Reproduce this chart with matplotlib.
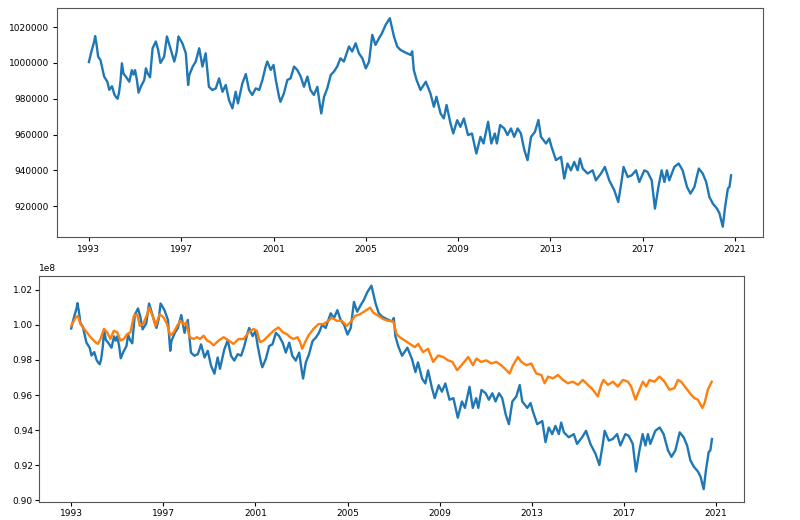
import matplotlib
matplotlib.use('Agg')
import matplotlib.pyplot as plt
import numpy as np

# --- data (decimal year, value) ---
top_years = [
    1993.00, 1993.10, 1993.23, 1993.27, 1993.33, 1993.40, 1993.50, 1993.58, 1993.66, 1993.80,
    1993.88, 1994.00, 1994.10, 1994.17, 1994.24, 1994.30, 1994.37, 1994.43, 1994.50, 1994.60,
    1994.75, 1994.86, 1994.93, 1995.00, 1995.08, 1995.15, 1995.25, 1995.40, 1995.47, 1995.55,
    1995.65, 1995.76, 1995.90, 1996.00, 1996.10, 1996.26, 1996.38, 1996.55, 1996.70, 1996.80,
    1996.88, 1997.05, 1997.20, 1997.30, 1997.35, 1997.50, 1997.63, 1997.78, 1997.92, 1998.06,
    1998.20, 1998.35, 1998.50, 1998.64, 1998.79, 1998.93, 1999.07, 1999.22, 1999.36, 1999.46,
    1999.65, 1999.80, 1999.94, 2000.08, 2000.23, 2000.38, 2000.52, 2000.66, 2000.73, 2000.88,
    2001.00, 2001.10, 2001.24, 2001.30, 2001.45, 2001.60, 2001.74, 2001.89, 2002.03, 2002.18,
    2002.32, 2002.47, 2002.60, 2002.75, 2002.90, 2003.00, 2003.07, 2003.19, 2003.33, 2003.48,
    2003.62, 2003.76, 2003.90, 2004.05, 2004.27, 2004.41, 2004.56, 2004.70, 2004.85, 2005.00,
    2005.14, 2005.28, 2005.42, 2005.57, 2005.70, 2005.86, 2006.04, 2006.22, 2006.36, 2006.50,
    2006.72, 2006.94, 2007.01, 2007.08, 2007.20, 2007.37, 2007.60, 2007.80, 2007.95, 2008.06,
    2008.24, 2008.38, 2008.50, 2008.67, 2008.79, 2008.96, 2009.10, 2009.25, 2009.43, 2009.60,
    2009.79, 2009.97, 2010.10, 2010.30, 2010.44, 2010.59, 2010.68, 2010.82, 2011.00, 2011.14,
    2011.29, 2011.43, 2011.58, 2011.72, 2011.87, 2012.01, 2012.16, 2012.33, 2012.48, 2012.59,
    2012.81, 2012.95, 2013.05, 2013.24, 2013.46, 2013.60, 2013.74, 2013.89, 2014.03, 2014.18,
    2014.28, 2014.40, 2014.61, 2014.83, 2014.97, 2015.19, 2015.36, 2015.55, 2015.77, 2015.94,
    2016.09, 2016.17, 2016.35, 2016.52, 2016.71, 2016.85, 2017.07, 2017.21, 2017.39, 2017.53,
    2017.68, 2017.82, 2017.94, 2018.05, 2018.15, 2018.37, 2018.56, 2018.73, 2018.92, 2019.07,
    2019.24, 2019.43, 2019.60, 2019.75, 2019.89, 2020.04, 2020.22, 2020.33, 2020.47, 2020.57,
    2020.69, 2020.76, 2020.83,
]
top_values = [
    1000500, 1006000, 1012000, 1015000, 1010500, 1003500, 1001700, 997000, 992400, 989500,
    985000, 987000, 982500, 981000, 980000, 983000, 990000, 999800, 994000, 992400,
    989500, 996000, 993500, 996000, 990500, 983400, 986700, 990500, 997000, 994000,
    992000, 1008200, 1012000, 1007300, 1000000, 1003500, 1014800, 1007300, 1000800, 1006000,
    1014800, 1011000, 1005400, 987700, 993300, 998000, 1000800, 1008200, 998000, 1005400,
    986700, 984900, 985800, 991400, 983900, 987700, 979300, 974600, 983900, 977400,
    988600, 993800, 984900, 982100, 985800, 984900, 990500, 998000, 1000800, 996100,
    998900, 990500, 981100, 978300, 983000, 990500, 991400, 998000, 996100, 992400,
    986700, 992400, 984900, 982100, 986700, 977400, 971800, 981100, 985800, 993300,
    995200, 998000, 1002600, 1000800, 1009200, 1006400, 1011000, 1005400, 1002600, 997000,
    1000800, 1015700, 1010100, 1013800, 1016600, 1021300, 1025000, 1014800, 1009200, 1007300,
    1005800, 1004500, 1006500, 996100, 990500, 984900, 989500, 983000, 975500, 981100,
    971800, 969000, 976500, 966200, 960600, 968000, 964300, 969000, 959700, 960600,
    949400, 958700, 955000, 967100, 955000, 960600, 955000, 965300, 963400, 959700,
    963400, 958700, 963400, 960600, 951300, 945700, 958700, 961500, 968100, 958700,
    955000, 957800, 953100, 945700, 947500, 935400, 943800, 940000, 944700, 940000,
    946600, 941000, 938200, 940000, 934400, 938200, 941900, 934400, 928800, 922300,
    934400, 941900, 936300, 937200, 940000, 933500, 940000, 939100, 934400, 918600,
    930700, 940000, 933500, 940000, 934400, 941900, 943800, 940000, 930700, 927000,
    930700, 941000, 938200, 933500, 925100, 921400, 918600, 915800, 908500, 919500,
    929800, 930700, 937200,
]

# second series of the lower panel, in units of 1e8
orange_years = [
    1993.00, 1993.19, 1993.29, 1993.40, 1993.62, 1993.84, 1994.05, 1994.16, 1994.27, 1994.42,
    1994.56, 1994.70, 1994.85, 1995.00, 1995.14, 1995.28, 1995.43, 1995.57, 1995.72, 1995.86,
    1995.98, 1996.12, 1996.30, 1996.38, 1996.51, 1996.66, 1996.84, 1997.02, 1997.16, 1997.30,
    1997.45, 1997.60, 1997.74, 1997.88, 1998.00, 1998.14, 1998.32, 1998.46, 1998.60, 1998.75,
    1998.90, 1999.04, 1999.18, 1999.40, 1999.62, 1999.84, 2000.05, 2000.27, 2000.49, 2000.70,
    2000.92, 2001.06, 2001.20, 2001.35, 2001.57, 2001.79, 2002.00, 2002.19, 2002.36, 2002.51,
    2002.65, 2002.83, 2002.94, 2003.03, 2003.16, 2003.30, 2003.52, 2003.74, 2003.95, 2004.17,
    2004.31, 2004.53, 2004.75, 2004.97, 2005.18, 2005.33, 2005.54, 2005.76, 2005.98, 2006.12,
    2006.34, 2006.56, 2006.77, 2006.99, 2007.13, 2007.27, 2007.49, 2007.71, 2007.92, 2008.07,
    2008.28, 2008.50, 2008.72, 2008.94, 2009.15, 2009.37, 2009.56, 2009.76, 2009.95, 2010.24,
    2010.45, 2010.60, 2010.81, 2011.03, 2011.25, 2011.46, 2011.68, 2011.90, 2012.04, 2012.19,
    2012.40, 2012.55, 2012.77, 2012.98, 2013.20, 2013.42, 2013.56, 2013.71, 2013.92, 2014.14,
    2014.36, 2014.57, 2014.79, 2015.01, 2015.22, 2015.44, 2015.66, 2015.87, 2016.02, 2016.12,
    2016.31, 2016.53, 2016.74, 2016.96, 2017.18, 2017.32, 2017.51, 2017.68, 2017.83, 2017.97,
    2018.12, 2018.33, 2018.55, 2018.77, 2018.98, 2019.20, 2019.35, 2019.49, 2019.71, 2019.93,
    2020.07, 2020.22, 2020.41, 2020.51, 2020.65, 2020.82,
]
orange_values = [
    0.9995, 1.0042, 1.0052, 1.0005, 0.9967, 0.9930, 0.9902, 0.9892, 0.9920, 0.9977,
    0.9958, 0.9920, 0.9967, 0.9958, 0.9911, 0.9920, 0.9948, 0.9958, 1.0052, 1.0061,
    0.9995, 1.0005, 1.0061, 1.0099, 1.0061, 0.9995, 1.0061, 1.0042, 1.0005, 0.9939,
    0.9958, 0.9995, 1.0024, 1.0005, 1.0014, 0.9930, 0.9920, 0.9930, 0.9920, 0.9939,
    0.9911, 0.9902, 0.9883, 0.9911, 0.9930, 0.9911, 0.9892, 0.9920, 0.9920, 0.9958,
    0.9977, 0.9967, 0.9902, 0.9911, 0.9939, 0.9967, 0.9986, 0.9958, 0.9948, 0.9930,
    0.9920, 0.9930, 0.9902, 0.9864, 0.9902, 0.9939, 0.9977, 1.0005, 1.0005, 1.0024,
    1.0042, 1.0024, 1.0024, 0.9995, 1.0024, 1.0052, 1.0061, 1.0080, 1.0099, 1.0070,
    1.0052, 1.0033, 1.0024, 1.0020, 0.9948, 0.9930, 0.9911, 0.9892, 0.9873, 0.9892,
    0.9845, 0.9864, 0.9789, 0.9826, 0.9817, 0.9798, 0.9789, 0.9742, 0.9770, 0.9817,
    0.9770, 0.9808, 0.9789, 0.9798, 0.9780, 0.9789, 0.9770, 0.9742, 0.9723, 0.9770,
    0.9817, 0.9789, 0.9770, 0.9780, 0.9723, 0.9714, 0.9667, 0.9705, 0.9695, 0.9714,
    0.9686, 0.9667, 0.9676, 0.9658, 0.9686, 0.9658, 0.9630, 0.9592, 0.9658, 0.9686,
    0.9658, 0.9676, 0.9648, 0.9686, 0.9676, 0.9648, 0.9573, 0.9630, 0.9676, 0.9648,
    0.9686, 0.9676, 0.9705, 0.9676, 0.9630, 0.9639, 0.9686, 0.9676, 0.9639, 0.9601,
    0.9582, 0.9573, 0.9526, 0.9554, 0.9630, 0.9676,
]

year_ticks = [1993, 1997, 2001, 2005, 2009, 2013, 2017, 2021]

# lower blue line is the same path on the 1e8 scale (sits ~0.25% below)
SCALE_LOW = 99.75

FS = 6.5
fig = plt.figure(figsize=(8, 5.2), dpi=100)

# --- top panel ---
ax1 = fig.add_axes([0.071, 0.544, 0.883, 0.441])
ax1.plot(top_years, top_values, color='#1f77b4', lw=1.7)
ax1.set_xticks(year_ticks)
ax1.set_xticklabels([str(y) for y in year_ticks])
ax1.ticklabel_format(axis='y', style='plain', useOffset=False)
ax1.tick_params(labelsize=FS, length=3, pad=2.5)

# --- bottom panel ---
ax2 = fig.add_axes([0.049, 0.034, 0.881, 0.436])
ax2.plot(top_years, np.array(top_values) * SCALE_LOW, color='#1f77b4', lw=1.7)
ax2.plot(orange_years, np.array(orange_values) * 1e8, color='#ff7f0e', lw=1.7)
ax2.set_ylim(0.8987e8, 1.0282e8)
ax2.set_xticks(year_ticks)
ax2.set_xticklabels([str(y) for y in year_ticks])
ax2.tick_params(labelsize=FS, length=3, pad=1.5)
ax2.yaxis.get_offset_text().set_fontsize(FS)

for ax in (ax1, ax2):
    for s in ax.spines.values():
        s.set_color('#555555')

fig.savefig('out.png', dpi=100, facecolor='white')
plt.close(fig)
